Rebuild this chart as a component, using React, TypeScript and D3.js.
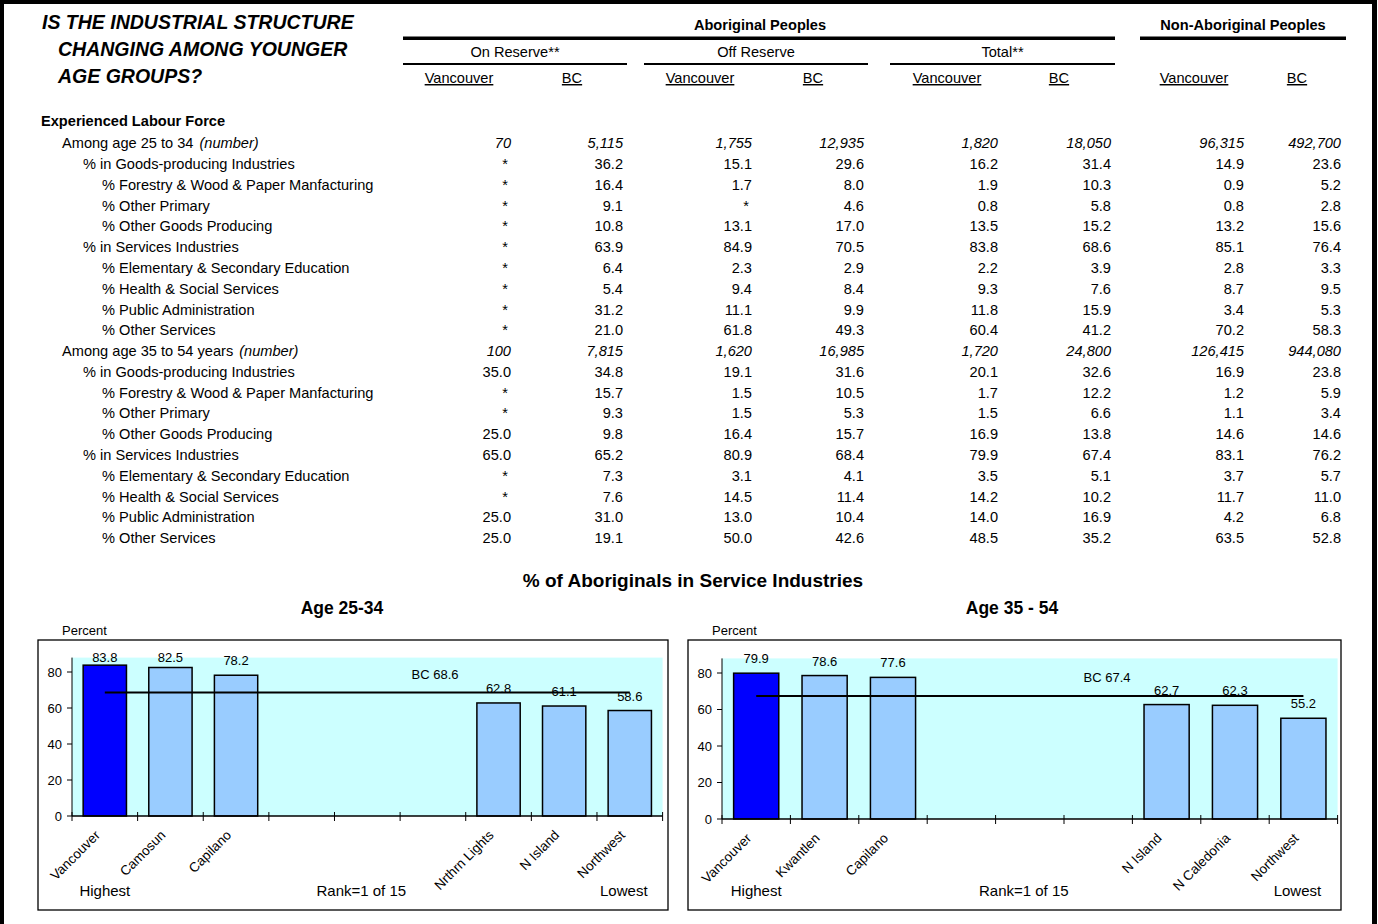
import React from "react";
import * as d3 from "d3";

const FONT = "'Liberation Sans', Arial, Helvetica, sans-serif";

// ---------- Table data ----------
const titleLines = ["IS THE INDUSTRIAL STRUCTURE", "CHANGING AMONG YOUNGER", "AGE GROUPS?"];
const groupHeaders = ["Aboriginal Peoples", "Non-Aboriginal Peoples"];
const subHeaders = ["On Reserve**", "Off Reserve", "Total**"];
const columnHeaders = ["Vancouver", "BC", "Vancouver", "BC", "Vancouver", "BC", "Vancouver", "BC"];

const rowLabels = [
  "Among age 25 to 34",
  "% in Goods-producing Industries",
  "% Forestry & Wood & Paper Manfacturing",
  "% Other Primary",
  "% Other Goods Producing",
  "% in Services Industries",
  "% Elementary & Secondary Education",
  "% Health & Social Services",
  "% Public Administration",
  "% Other Services",
  "Among age 35 to 54 years",
  "% in Goods-producing Industries",
  "% Forestry & Wood & Paper Manfacturing",
  "% Other Primary",
  "% Other Goods Producing",
  "% in Services Industries",
  "% Elementary & Secondary Education",
  "% Health & Social Services",
  "% Public Administration",
  "% Other Services",
];
const rowLevels = [0, 1, 2, 2, 2, 1, 2, 2, 2, 2, 0, 1, 2, 2, 2, 1, 2, 2, 2, 2];

const onReserveVancouver = ["70", "*", "*", "*", "*", "*", "*", "*", "*", "*", "100", "35.0", "*", "*", "25.0", "65.0", "*", "*", "25.0", "25.0"];
const onReserveBC = ["5,115", "36.2", "16.4", "9.1", "10.8", "63.9", "6.4", "5.4", "31.2", "21.0", "7,815", "34.8", "15.7", "9.3", "9.8", "65.2", "7.3", "7.6", "31.0", "19.1"];
const offReserveVancouver = ["1,755", "15.1", "1.7", "*", "13.1", "84.9", "2.3", "9.4", "11.1", "61.8", "1,620", "19.1", "1.5", "1.5", "16.4", "80.9", "3.1", "14.5", "13.0", "50.0"];
const offReserveBC = ["12,935", "29.6", "8.0", "4.6", "17.0", "70.5", "2.9", "8.4", "9.9", "49.3", "16,985", "31.6", "10.5", "5.3", "15.7", "68.4", "4.1", "11.4", "10.4", "42.6"];
const totalVancouver = ["1,820", "16.2", "1.9", "0.8", "13.5", "83.8", "2.2", "9.3", "11.8", "60.4", "1,720", "20.1", "1.7", "1.5", "16.9", "79.9", "3.5", "14.2", "14.0", "48.5"];
const totalBC = ["18,050", "31.4", "10.3", "5.8", "15.2", "68.6", "3.9", "7.6", "15.9", "41.2", "24,800", "32.6", "12.2", "6.6", "13.8", "67.4", "5.1", "10.2", "16.9", "35.2"];
const nonAboriginalVancouver = ["96,315", "14.9", "0.9", "0.8", "13.2", "85.1", "2.8", "8.7", "3.4", "70.2", "126,415", "16.9", "1.2", "1.1", "14.6", "83.1", "3.7", "11.7", "4.2", "63.5"];
const nonAboriginalBC = ["492,700", "23.6", "5.2", "2.8", "15.6", "76.4", "3.3", "9.5", "5.3", "58.3", "944,080", "23.8", "5.9", "3.4", "14.6", "76.2", "5.7", "11.0", "6.8", "52.8"];

const tableColumns = [
  onReserveVancouver, onReserveBC, offReserveVancouver, offReserveBC,
  totalVancouver, totalBC, nonAboriginalVancouver, nonAboriginalBC,
];

// ---------- Chart data ----------
const chartTitle = "% of Aboriginals in Service Industries";
const age2534Title = "Age 25-34";
const age2534Categories = ["Vancouver", "Camosun", "Capilano", "", "", "", "Nrthrn Lights", "N Island", "Northwest"];
const age2534Values: (number | null)[] = [83.8, 82.5, 78.2, null, null, null, 62.8, 61.1, 58.6];
const age2534BC = 68.6;

const age3554Title = "Age 35 - 54";
const age3554Categories = ["Vancouver", "Kwantlen", "Capilano", "", "", "", "N Island", "N Caledonia", "Northwest"];
const age3554Values: (number | null)[] = [79.9, 78.6, 77.6, null, null, null, 62.7, 62.3, 55.2];
const age3554BC = 67.4;

const yTicks = [0, 20, 40, 60, 80];
const yMax = 88;

// ---------- Layout ----------
const TFS = 14.6;
const colRight = [511, 623, 752, 864, 998, 1111, 1244, 1341];
const colHeadCenter = [459, 572, 700, 813, 947, 1059, 1194, 1297];
const levelX = [62, 83, 102];

type ChartProps = {
  categories: string[];
  values: (number | null)[];
  bc: number;
  box: { x: number; y: number; w: number; h: number };
  plot: { x0: number; x1: number; yZero: number; yTop: number };
  bcLabelX: number;
};

function BarChart({ categories, values, bc, box, plot, bcLabelX }: ChartProps) {
  const idx = categories.map((_, i) => i);
  const x = d3.scaleBand<number>().domain(idx).range([plot.x0, plot.x1]).paddingInner(0.34).paddingOuter(0.17);
  const y = d3.scaleLinear().domain([0, yMax]).range([plot.yZero, plot.yTop]);
  const step = x.step();
  const yTop = y(yMax);
  const center = (i: number) => (x(i) as number) + x.bandwidth() / 2;
  const first = center(0);
  const last = center(categories.length - 1);
  const boundaries = d3.range(categories.length + 1).map((i) => plot.x0 + i * step);
  const footY = box.y + box.h - 14;
  return (
    <g>
      <rect x={box.x} y={box.y} width={box.w} height={box.h} fill="#fff" stroke="#000" strokeWidth={1.3} />
      <text x={plot.x0 - 10} y={box.y - 5} fontSize={13} fontFamily={FONT}>Percent</text>
      <rect x={plot.x0} y={yTop} width={plot.x1 - plot.x0} height={plot.yZero - yTop} fill="#CCFFFF" />
      {values.map((v, i) =>
        v == null ? null : (
          <rect key={"b" + i} x={x(i)} y={y(v)} width={x.bandwidth()} height={plot.yZero - y(v)}
            fill={i === 0 ? "#0000FF" : "#99CCFF"} stroke="#000" strokeWidth={1.5} />
        )
      )}
      {values.map((v, i) =>
        v == null ? null : (
          <text key={"v" + i} x={center(i)} y={Math.max(y(v) - 10, yTop + 4)} textAnchor="middle"
            fontSize={13} fontFamily={FONT}>{v.toFixed(1)}</text>
        )
      )}
      <line x1={first} x2={last} y1={y(bc)} y2={y(bc)} stroke="#000" strokeWidth={2} />
      <text x={bcLabelX} y={y(bc) - 14} textAnchor="middle" fontSize={13} fontFamily={FONT}>BC {bc.toFixed(1)}</text>
      {/* y axis */}
      <line x1={plot.x0} x2={plot.x0} y1={yTop} y2={plot.yZero} stroke="#000" strokeWidth={1} />
      {yTicks.map((t) => (
        <g key={"t" + t}>
          <line x1={plot.x0 - 5} x2={plot.x0} y1={y(t)} y2={y(t)} stroke="#000" strokeWidth={1} />
          <text x={plot.x0 - 10} y={y(t) + 4.5} textAnchor="end" fontSize={13} fontFamily={FONT}>{t}</text>
        </g>
      ))}
      {/* x axis */}
      <line x1={plot.x0} x2={plot.x1} y1={plot.yZero} y2={plot.yZero} stroke="#000" strokeWidth={1.3} />
      {boundaries.map((bx, i) => (
        <line key={"xt" + i} x1={bx} x2={bx} y1={plot.yZero - 4} y2={plot.yZero + 5} stroke="#000" strokeWidth={1} />
      ))}
      {categories.map((c, i) =>
        c ? (
          <text key={"c" + i} transform={`translate(${center(i) - 4},${plot.yZero + 20}) rotate(-45)`}
            textAnchor="end" fontSize={13.5} fontFamily={FONT}>{c}</text>
        ) : null
      )}
      <text x={first} y={footY} textAnchor="middle" fontSize={15} fontFamily={FONT}>Highest</text>
      <text x={(plot.x0 + plot.x1) / 2 - 6} y={footY} textAnchor="middle" fontSize={15} fontFamily={FONT}>Rank=1 of 15</text>
      <text x={last - 6} y={footY} textAnchor="middle" fontSize={15} fontFamily={FONT}>Lowest</text>
    </g>
  );
}

export default function App() {
  const rowY = d3.scalePoint<number>().domain(rowLabels.map((_, i) => i)).range([143, 538]);
  return (
    <svg width={1378} height={924} style={{ position: "fixed", left: 0, top: 0, background: "#fff" }}
      fontFamily={FONT}>
      <rect x={0} y={0} width={1378} height={924} fill="#fff" />
      {/* frame */}
      <rect x={0} y={0} width={4} height={924} fill="#000" />
      <rect x={0} y={0} width={1377} height={4} fill="#000" />
      <rect x={1372} y={0} width={5} height={924} fill="#000" />

      {/* Title */}
      {titleLines.map((t, i) => (
        <text key={"tl" + i} x={i === 0 ? 42 : 58} y={29 + i * 27} fontSize={19.5} fontWeight="bold"
          fontStyle="italic">{t}</text>
      ))}

      {/* headers */}
      <text x={760} y={30} textAnchor="middle" fontSize={TFS} fontWeight="bold">{groupHeaders[0]}</text>
      <text x={1243} y={30} textAnchor="middle" fontSize={TFS} fontWeight="bold">{groupHeaders[1]}</text>
      <rect x={403} y={36.5} width={712} height={3.5} fill="#000" />
      <rect x={1140} y={36.5} width={206} height={3.5} fill="#000" />
      {subHeaders.map((s, i) => {
        const x0 = [403, 644, 890][i];
        const x1 = [627, 868, 1115][i];
        return (
          <g key={"sh" + i}>
            <text x={(x0 + x1) / 2} y={57} textAnchor="middle" fontSize={TFS}>{s}</text>
            <rect x={x0} y={63} width={x1 - x0} height={2} fill="#000" />
          </g>
        );
      })}
      {columnHeaders.map((c, i) => (
        <text key={"ch" + i} x={colHeadCenter[i]} y={83} textAnchor="middle" fontSize={TFS}
          style={{ textDecoration: "underline" }}>{c}</text>
      ))}

      <text x={41} y={126} fontSize={TFS} fontWeight="bold">Experienced Labour Force</text>

      {rowLabels.map((l, i) => (
        <text key={"rl" + i} x={levelX[rowLevels[i]]} y={(rowY(i) as number) + 5.2} fontSize={TFS}>
          {l}
          {rowLevels[i] === 0 ? <tspan fontStyle="italic" dx={6}>(number)</tspan> : null}
        </text>
      ))}

      {tableColumns.map((col, ci) =>
        col.map((v, ri) => (
          <text key={`c${ci}r${ri}`} x={colRight[ci] - (v === "*" ? 3 : 0)}
            y={(rowY(ri) as number) + 5.2} textAnchor="end" fontSize={TFS}
            fontStyle={rowLevels[ri] === 0 ? "italic" : "normal"}>{v}</text>
        ))
      )}

      {/* Charts */}
      <text x={693} y={587} textAnchor="middle" fontSize={19} fontWeight="bold">{chartTitle}</text>
      <text x={342} y={614} textAnchor="middle" fontSize={17.5} fontWeight="bold">{age2534Title}</text>
      <text x={1012} y={614} textAnchor="middle" fontSize={17.5} fontWeight="bold">{age3554Title}</text>

      <BarChart categories={age2534Categories} values={age2534Values} bc={age2534BC}
        box={{ x: 38, y: 640, w: 630, h: 270 }} plot={{ x0: 72, x1: 662.6, yZero: 816, yTop: 657.6 }} bcLabelX={435} />
      <BarChart categories={age3554Categories} values={age3554Values} bc={age3554BC}
        box={{ x: 688, y: 640, w: 653, h: 270 }} plot={{ x0: 722, x1: 1337.6, yZero: 819, yTop: 658.4 }} bcLabelX={1107} />
    </svg>
  );
}
